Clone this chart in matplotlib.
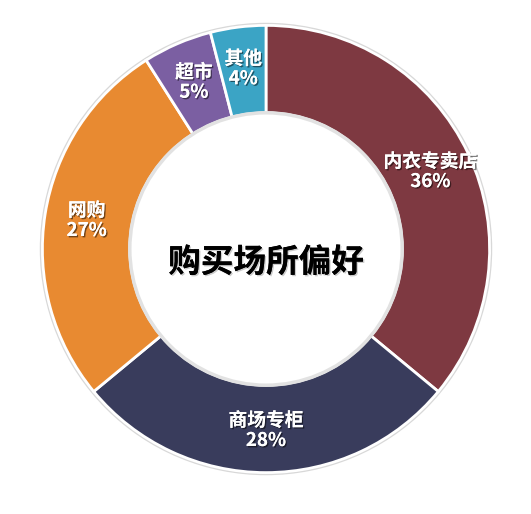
import matplotlib
matplotlib.use("Agg")
import matplotlib.pyplot as plt
import matplotlib.patheffects as pe
import numpy as np

plt.rcParams['font.family'] = ['Noto Sans CJK SC', 'DejaVu Sans']

categories = ['内衣专卖店', '商场专柜', '网购', '超市', '其他']
values = [36, 28, 27, 5, 4]
colors = ['#7E3941', '#393C5C', '#E88A31', '#7B5FA2', '#3BA4C5']
title = '购买场所偏好'

W, H = 531, 514
fig = plt.figure(figsize=(W / 100, H / 100), dpi=100)
fig.patch.set_facecolor('white')
R = 227
cx, cy = 266, 514 - 249
ax = fig.add_axes([(cx - R) / W, (cy - R) / H, 2 * R / W, 2 * R / H])
ax.axis('off')

ring_w = 0.385
wedges, _ = ax.pie(values, colors=colors, startangle=90, counterclock=False,
                   radius=0.985, wedgeprops=dict(width=ring_w, edgecolor='white', linewidth=2))
ax.set_xlim(-1.0, 1.0)
ax.set_ylim(-1.0, 1.0)
ax.set_aspect('equal')

# subtle outer shadow ring and inner shadow
outer = plt.Circle((0, 0), 0.992, fill=False, edgecolor='#d8d8d8', linewidth=1.5, zorder=0)
ax.add_patch(outer)
inner = plt.Circle((0, 0), 0.985 - ring_w, fill=False, edgecolor='#e2e2e2', linewidth=2.5, zorder=3)
ax.add_patch(inner)

shadow = [pe.withSimplePatchShadow(offset=(1.0, -1.0), shadow_rgbFace='black', alpha=0.5), pe.Normal()]
r_lab = 0.80
for w, cat, v in zip(wedges, categories, values):
    ang = np.deg2rad((w.theta1 + w.theta2) / 2)
    x, y = r_lab * np.cos(ang), r_lab * np.sin(ang)
    ax.text(x, y, f'{cat}\n{v}%', ha='center', va='center', color='white',
            fontsize=13.5, fontweight='bold', linespacing=1.05, path_effects=shadow, zorder=5)

ax.text(0, -0.06, title, ha='center', va='center', color='black', fontsize=23.5,
        fontweight='bold',
        path_effects=[pe.withSimplePatchShadow(offset=(1, -1), shadow_rgbFace='gray', alpha=0.4), pe.Normal()],
        zorder=5)

fig.savefig('out.png', dpi=100, facecolor='white')
